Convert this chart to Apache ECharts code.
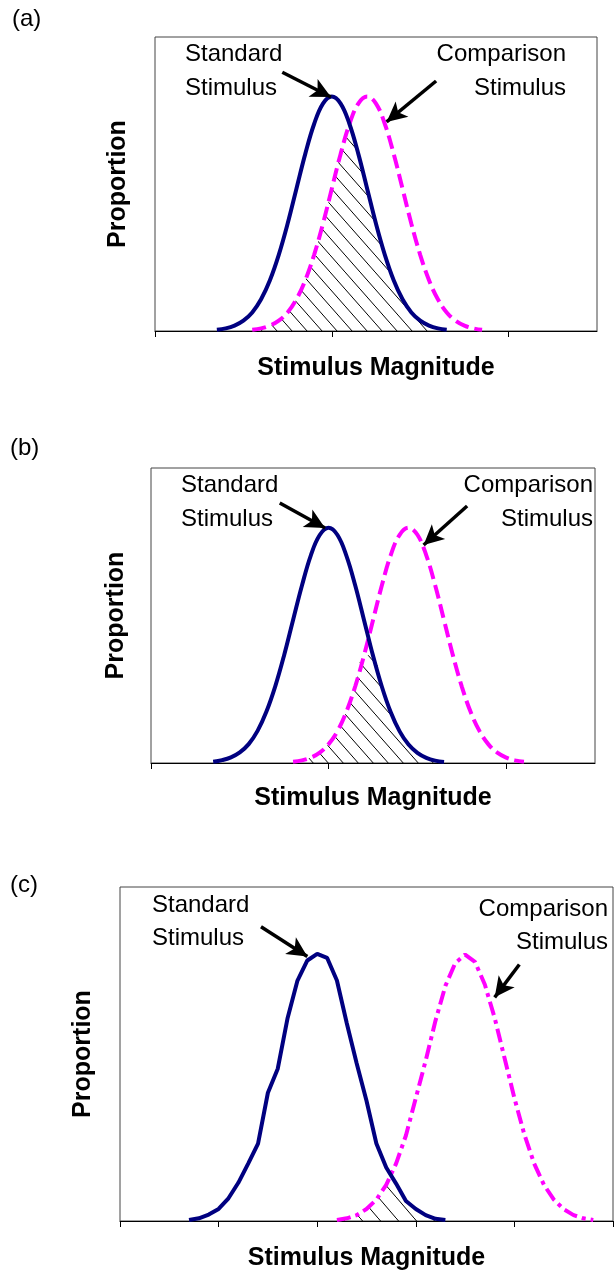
<!DOCTYPE html>
<html><head><meta charset="utf-8">
<script src="https://cdn.jsdelivr.net/npm/echarts@6/dist/echarts.min.js"></script>
<style>html,body{margin:0;padding:0;background:#fff;}#main{width:614px;height:1272px;}</style>
</head><body><div id="main"></div>
<script>
// ---------- DATA ----------
const panelLabels = ['(a)', '(b)', '(c)'];
const xTitle = 'Stimulus Magnitude';
const yTitle = 'Proportion';
const stdText = ['Standard', 'Stimulus'];
const cmpText = ['Comparison', 'Stimulus'];

const xTicks_a = [0, 20, 40];
const xTicks_b = [0, 20, 40];
const xTicks_c = [0, 10, 20, 30, 40, 50];

const stdX = [7,8,9,10,11,12,13,14,15,16,17,18,19,20,21,22,23,24,25,26,27,28,29,30,31,32,33];
const stdY_a = [0.0005,0.0011,0.0023,0.0044,0.0079,0.0135,0.0216,0.0324,0.0456,0.0605,0.0753,0.0880,0.0967,0.0997,0.0967,0.0880,0.0753,0.0605,0.0456,0.0324,0.0216,0.0135,0.0079,0.0044,0.0023,0.0011,0.0005];
const stdY_b = [0.0005,0.0012,0.0024,0.0045,0.0080,0.0136,0.0218,0.0326,0.0458,0.0606,0.0752,0.0880,0.0966,0.0997,0.0966,0.0879,0.0752,0.0604,0.0455,0.0323,0.0215,0.0134,0.0078,0.0043,0.0022,0.0010,0.0004];
const stdY_c = [0.0004,0.0010,0.0024,0.0045,0.0085,0.0143,0.0215,0.0290,0.0480,0.0570,0.0760,0.0900,0.0975,0.1000,0.0985,0.0900,0.0740,0.0590,0.0450,0.0290,0.0200,0.0140,0.0075,0.0045,0.0022,0.0008,0.0004];

const cmpX_a = [11,12,13,14,15,16,17,18,19,20,21,22,23,24,25,26,27,28,29,30,31,32,33,34,35,36,37];
const cmpY_a = [0.0005,0.0011,0.0023,0.0044,0.0079,0.0135,0.0216,0.0324,0.0456,0.0605,0.0753,0.0880,0.0967,0.0997,0.0967,0.0880,0.0753,0.0605,0.0456,0.0324,0.0216,0.0135,0.0079,0.0044,0.0023,0.0011,0.0005];
const cmpX_b = [16,17,18,19,20,21,22,23,24,25,26,27,28,29,30,31,32,33,34,35,36,37,38,39,40,41,42];
const cmpY_b = [0.0005,0.0011,0.0023,0.0044,0.0080,0.0135,0.0217,0.0325,0.0457,0.0605,0.0753,0.0881,0.0967,0.0997,0.0967,0.0880,0.0753,0.0605,0.0456,0.0324,0.0216,0.0135,0.0079,0.0044,0.0023,0.0011,0.0005];
const cmpX_c = [22,23,24,25,26,27,28,29,30,31,32,33,34,35,36,37,38,39,40,41,42,43,44,45,46,47,48];
const cmpY_c = [0.0004,0.0010,0.0022,0.0045,0.0080,0.0135,0.0215,0.0320,0.0460,0.0600,0.0750,0.0880,0.0965,0.0997,0.0970,0.0885,0.0760,0.0610,0.0460,0.0325,0.0215,0.0135,0.0080,0.0044,0.0022,0.0010,0.0004];

// ---------- LAYOUT / STYLE ----------
const FONT = '"Liberation Sans", Arial, sans-serif';
const panels = [
  { label: panelLabels[0], grid: {left:155, top:37, width:442, height:294}, xMax: 50, interval: 20, ticks: xTicks_a,
    sx: stdX, sy: stdY_a, cx: cmpX_a, cy: cmpY_a, smooth: 0.4, hatch: [15, 17], dash: [14, 6],
    labelPos: [12, 19], stdPos: [185, 54, 88], cmpPos: [566, 54, 88],
    stdArrow: [[14.4, 0.1100], [19.9, 0.0995]], cmpArrow: [[31.8, 0.1063], [26.2, 0.0889]],
    xGap: 25, yGap: 24 },
  { label: panelLabels[1], grid: {left:151, top:468, width:444, height:295}, xMax: 50, interval: 20, ticks: xTicks_b,
    sx: stdX, sy: stdY_b, cx: cmpX_b, cy: cmpY_b, smooth: 0.4, hatch: [15, 17], dash: [14, 6],
    labelPos: [10, 448], stdPos: [181, 485, 519], cmpPos: [593, 485, 519],
    stdArrow: [[14.5, 0.1102], [19.6, 0.0996]], cmpArrow: [[35.6, 0.1089], [30.7, 0.0924]],
    xGap: 23, yGap: 22 },
  { label: panelLabels[2], grid: {left:120, top:887, width:493, height:336}, xMax: 50, interval: 10, ticks: xTicks_c,
    sx: stdX, sy: stdY_c, cx: cmpX_c, cy: cmpY_c, smooth: false, hatch: [18, 21], dash: [14, 5, 4, 5],
    labelPos: [10, 885], stdPos: [152, 905, 938], cmpPos: [608, 909, 942],
    stdArrow: [[14.3, 0.1101], [19.0, 0.0990]], cmpArrow: [[40.5, 0.0960], [38.0, 0.0837]],
    xGap: 25, yGap: 24 }
];

function hatchPattern(w, h) {
  const c = document.createElement('canvas');
  c.width = w; c.height = h;
  const g = c.getContext('2d');
  g.strokeStyle = '#000';
  g.lineWidth = 1;
  g.beginPath();
  g.moveTo(-w, -h); g.lineTo(2 * w, 2 * h);
  g.stroke();
  return c;
}
function pairs(xs, ys) { return xs.map((x, i) => [x, ys[i]]); }
function overlap(x1, y1, x2, y2) {
  const m1 = {}, m2 = {};
  x1.forEach((x, i) => m1[x] = y1[i]);
  x2.forEach((x, i) => m2[x] = y2[i]);
  const lo = Math.max(x1[0], x2[0]), hi = Math.min(x1[x1.length - 1], x2[x2.length - 1]);
  const xs = Array.from(new Set(x1.concat(x2))).filter(x => x >= lo && x <= hi).sort((a, b) => a - b);
  return xs.map(x => [x, Math.min(m1[x], m2[x])]);
}
function arrow(a) {
  return {
    silent: true, animation: false, symbol: ['none', 'arrow'], symbolSize: [15, 20],
    lineStyle: { color: '#000', width: 3.5, type: 'solid' }, label: { show: false },
    emphasis: { disabled: true },
    data: [[{ coord: a[0] }, { coord: a[1] }]]
  };
}
const grids = [], xAxes = [], yAxes = [], series = [], graphics = [];
panels.forEach((p, i) => {
  grids.push(Object.assign({ show: true, borderColor: '#444', borderWidth: 1, backgroundColor: '#fff' }, p.grid));
  xAxes.push({
    gridIndex: i, type: 'value', min: 0, max: p.xMax, interval: p.interval,
    name: xTitle, nameLocation: 'middle', nameGap: p.xGap,
    nameTextStyle: { fontFamily: FONT, fontSize: 25, fontWeight: 'bold', color: '#000' },
    axisLine: { show: true, onZero: false, lineStyle: { color: '#000', width: 1 } },
    axisTick: { show: true, inside: false, length: 6, customValues: p.ticks, lineStyle: { color: '#000' } },
    axisLabel: { show: false }, splitLine: { show: false }
  });
  yAxes.push({
    gridIndex: i, type: 'value', min: 0, max: 0.125,
    name: yTitle, nameLocation: 'middle', nameGap: p.yGap,
    nameTextStyle: { fontFamily: FONT, fontSize: 25, fontWeight: 'bold', color: '#000' },
    axisLine: { show: false }, axisTick: { show: false }, axisLabel: { show: false }, splitLine: { show: false }
  });
  series.push({
    type: 'line', xAxisIndex: i, yAxisIndex: i, data: overlap(p.sx, p.sy, p.cx, p.cy),
    smooth: p.smooth, symbol: 'none', silent: true, z: 1,
    lineStyle: { width: 0, opacity: 0 },
    areaStyle: { color: { image: hatchPattern(p.hatch[0], p.hatch[1]), repeat: 'repeat' }, opacity: 1 }
  });
  series.push({
    type: 'line', xAxisIndex: i, yAxisIndex: i, data: pairs(p.cx, p.cy),
    smooth: p.smooth, symbol: 'none', silent: true, z: 2,
    lineStyle: { color: '#FF00FF', width: 4, type: p.dash, cap: 'butt' },
    markLine: arrow(p.cmpArrow)
  });
  series.push({
    type: 'line', xAxisIndex: i, yAxisIndex: i, data: pairs(p.sx, p.sy),
    smooth: p.smooth, symbol: 'none', silent: true, z: 3,
    lineStyle: { color: '#000080', width: 4 },
    markLine: arrow(p.stdArrow)
  });
  const tf = '24px ' + FONT;
  graphics.push({ type: 'text', x: p.labelPos[0], y: p.labelPos[1], style: { text: p.label, font: tf, fill: '#000', textAlign: 'left', textVerticalAlign: 'middle' } });
  graphics.push({ type: 'text', x: p.stdPos[0], y: p.stdPos[1], style: { text: stdText[0], font: tf, fill: '#000', textAlign: 'left', textVerticalAlign: 'middle' } });
  graphics.push({ type: 'text', x: p.stdPos[0], y: p.stdPos[2], style: { text: stdText[1], font: tf, fill: '#000', textAlign: 'left', textVerticalAlign: 'middle' } });
  graphics.push({ type: 'text', x: p.cmpPos[0], y: p.cmpPos[1], style: { text: cmpText[0], font: tf, fill: '#000', textAlign: 'right', textVerticalAlign: 'middle' } });
  graphics.push({ type: 'text', x: p.cmpPos[0], y: p.cmpPos[2], style: { text: cmpText[1], font: tf, fill: '#000', textAlign: 'right', textVerticalAlign: 'middle' } });
});

const chart = echarts.init(document.getElementById('main'), null, { renderer: 'canvas' });
chart.setOption({
  animation: false,
  backgroundColor: '#fff',
  grid: grids, xAxis: xAxes, yAxis: yAxes, series: series,
  graphic: { elements: graphics }
});
</script></body></html>
